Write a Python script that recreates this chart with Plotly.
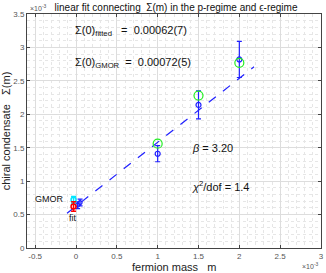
import plotly.graph_objects as go

# ---- data (physical units) ----
eps_m = [0.00002, 0.00005]
eps_sigma = [0.00064, 0.00068]
eps_err = [0.00005, 0.00005]

p_m = [0.0010, 0.0015, 0.0020]
p_sigma = [0.00141, 0.00214, 0.00282]
p_err = [0.00012, 0.00021, 0.00027]

green_m = [0.0010, 0.0015, 0.0020]
green_sigma = [0.00156, 0.00228, 0.00277]

fit_m0 = [-0.00003]
fit_sigma0 = [0.00062]
fit_err0 = [0.00007]

gmor_m0 = [-0.00003]
gmor_sigma0 = [0.00072]
gmor_err0 = [0.00005]

line_m = [-0.00011, 0.00218]
line_sigma = [0.00052, 0.00271]

x_ticks = [-0.0005, 0, 0.0005, 0.001, 0.0015, 0.002, 0.0025, 0.003]
x_labels = ["-0.5", "0", "0.5", "1", "1.5", "2", "2.5", "3"]
y_ticks = [0, 0.0005, 0.001, 0.0015, 0.002, 0.0025, 0.003, 0.0035]
y_labels = ["0", "0.5", "1", "1.5", "2", "2.5", "3", "3.5"]

FONT = "Liberation Sans, Arial, sans-serif"
BLUE = "#2020ff"

fig = go.Figure()
fig.add_trace(go.Scatter(x=line_m, y=line_sigma, mode="lines",
                         line=dict(color=BLUE, width=1.2, dash="dash"), showlegend=False))
fig.add_trace(go.Scatter(x=p_m, y=p_sigma, mode="markers",
                         marker=dict(symbol="circle-open", size=5, color=BLUE, line=dict(width=1.2)),
                         error_y=dict(type="data", array=p_err, color=BLUE, thickness=1.2, width=2.5),
                         showlegend=False))
fig.add_trace(go.Scatter(x=eps_m, y=eps_sigma, mode="markers",
                         marker=dict(symbol="circle-open", size=4, color=BLUE, line=dict(width=1.2)),
                         error_y=dict(type="data", array=eps_err, color=BLUE, thickness=1.2, width=2.5),
                         showlegend=False))
fig.add_trace(go.Scatter(x=green_m, y=green_sigma, mode="markers",
                         marker=dict(symbol="circle-open", size=9, color="#22ee22", line=dict(width=1.2)),
                         showlegend=False))
fig.add_trace(go.Scatter(x=gmor_m0, y=gmor_sigma0, mode="markers",
                         marker=dict(symbol="circle-open", size=5, color="#00e5ff", line=dict(width=1.5)),
                         error_y=dict(type="data", array=gmor_err0, color="#00e5ff", thickness=1.5, width=2.5),
                         showlegend=False))
fig.add_trace(go.Scatter(x=fit_m0, y=fit_sigma0, mode="markers",
                         marker=dict(symbol="circle-open", size=5, color="#ff0000", line=dict(width=1.5)),
                         error_y=dict(type="data", array=fit_err0, color="#ff0000", thickness=1.5, width=2.5),
                         showlegend=False))

annotations = [
    dict(x=-0.000036, y=0.00325, text="Σ(0)<sub>fitted</sub>   =  0.00062(7)", xanchor="left", yanchor="middle"),
    dict(x=-0.000036, y=0.00277, text="Σ(0)<sub>GMOR</sub>  =  0.00072(5)", xanchor="left", yanchor="middle"),
    dict(x=0.00139, y=0.00150, text="<i>β</i> = 3.20", xanchor="left", yanchor="middle"),
    dict(x=0.00139, y=0.00093, text="<i>χ</i><sup>2</sup>/dof = 1.4", xanchor="left", yanchor="middle"),
    dict(x=-0.000140, y=0.00074, text="GMOR", xanchor="right", yanchor="middle", size=9),
    dict(x=-0.000036, y=0.00045, text="fit", xanchor="center", yanchor="middle", size=9),
]
for a in annotations:
    sz = a.pop("size", 11)
    fig.add_annotation(**a, xref="x", yref="y", showarrow=False,
                       font=dict(family=FONT, size=sz, color="#111111"))

fig.add_annotation(x=0, y=1, xref="paper", yref="paper", text="×10<sup>-3</sup>",
                   xanchor="left", yanchor="bottom", showarrow=False, xshift=1,
                   font=dict(family=FONT, size=7, color="#555555"))
fig.add_annotation(x=1, y=0, xref="paper", yref="paper", text="×10<sup>-3</sup>",
                   xanchor="right", yanchor="top", showarrow=False, yshift=-12,
                   font=dict(family=FONT, size=7, color="#555555"))
# x-axis title placed as an annotation for precise position
fig.add_annotation(x=0.5, y=0, xref="paper", yref="paper", text="fermion mass   m",
                   xanchor="center", yanchor="top", showarrow=False, yshift=-11,
                   font=dict(family=FONT, size=11, color="#222222"))

axis_common = dict(showline=True, linecolor="#444444", linewidth=1, mirror="ticks",
                   ticks="inside", ticklen=3, tickcolor="#444444",
                   showgrid=True, gridcolor="#dddddd", gridwidth=1, zeroline=False,
                   tickfont=dict(family=FONT, size=8, color="#555555"))

fig.update_xaxes(range=[-0.0006, 0.003], tickvals=x_ticks, ticktext=x_labels,
                 minor=dict(dtick=0.0001, showgrid=True, gridcolor="#e6e6e6", griddash="dot", ticks=""),
                 **axis_common)
fig.update_yaxes(range=[0, 0.0035], tickvals=y_ticks, ticktext=y_labels,
                 minor=dict(dtick=0.0001, showgrid=True, gridcolor="#e6e6e6", griddash="dot", ticks=""),
                 title=dict(text="chiral condensate   Σ(m)", font=dict(family=FONT, size=11, color="#222222"), standoff=4),
                 **axis_common)

fig.update_layout(
    width=326, height=273,
    margin=dict(l=25, r=2, t=14, b=25),
    paper_bgcolor="white", plot_bgcolor="white",
    title=dict(text="linear fit connecting  Σ(m) in the p-regime and ϵ-regime",
               x=0.54, xanchor="center", y=0.985, yanchor="top",
               font=dict(family=FONT, size=10, color="#111111")),
)

fig.write_html("out.html", config={"displayModeBar": False},
               post_script="document.body.style.margin='0';")
